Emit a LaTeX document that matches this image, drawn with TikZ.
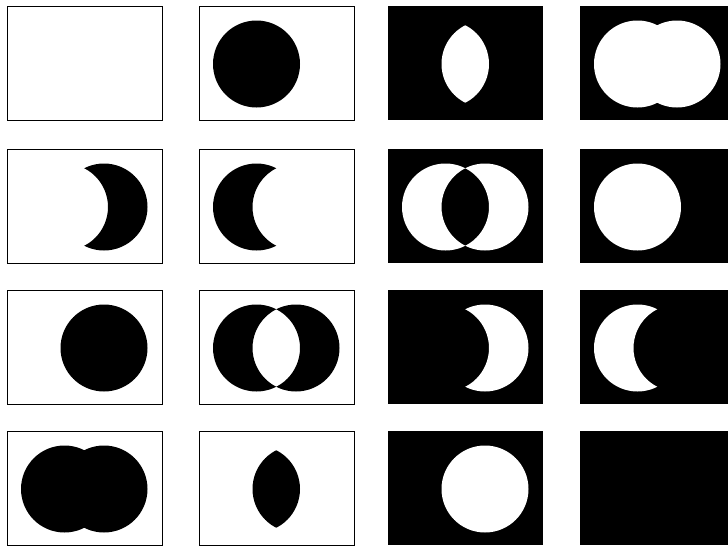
\documentclass[tikz,border=0pt]{standalone}

\newcommand{\cellrect}{(0,0) rectangle (155,114)}
\newcommand{\circA}{(57.5,58) circle[radius=43.5pt]}
\newcommand{\circB}{(97,58) circle[radius=43.5pt]}

\tikzset{
    frame/.style={draw=black, line width=1pt},
    ink/.style={fill=black},
    hole/.style={fill=white}
}

\begin{document}
\begin{tikzpicture}[x=1pt, y=-1pt]

    \useasboundingbox (0,0) rectangle (728,546);
    \clip (0,0) rectangle (728,546);

    % Row 1: 0, A, not(A and B), not(A or B)
    \begin{scope}[shift={(7,6)}]
        \draw[frame] \cellrect;
    \end{scope}
    \begin{scope}[shift={(199,6)}]
        \draw[frame] \cellrect;
        \fill[ink] \circA;
    \end{scope}
    \begin{scope}[shift={(388,6)}]
        \fill[ink] \cellrect;
        \begin{scope}
            \clip \circA;
            \fill[hole] \circB;
        \end{scope}
    \end{scope}
    \begin{scope}[shift={(580,6)}]
        \fill[ink] \cellrect;
        \fill[hole] \circA \circB;
    \end{scope}

    % Row 2: B and not A, A and not B, not(A xor B), not A
    \begin{scope}[shift={(7,149)}]
        \draw[frame] \cellrect;
        \begin{scope}
            \clip \circB;
            \fill[ink, even odd rule] \cellrect \circA;
        \end{scope}
    \end{scope}
    \begin{scope}[shift={(199,149)}]
        \draw[frame] \cellrect;
        \begin{scope}
            \clip \circA;
            \fill[ink, even odd rule] \cellrect \circB;
        \end{scope}
    \end{scope}
    \begin{scope}[shift={(388,149)}]
        \fill[ink] \cellrect;
        \fill[hole, even odd rule] \circA \circB;
    \end{scope}
    \begin{scope}[shift={(580,149)}]
        \fill[ink] \cellrect;
        \fill[hole] \circA;
    \end{scope}

    % Row 3: B, A xor B, not(B and not A), not(A and not B)
    \begin{scope}[shift={(7,290)}]
        \draw[frame] \cellrect;
        \fill[ink] \circB;
    \end{scope}
    \begin{scope}[shift={(199,290)}]
        \draw[frame] \cellrect;
        \fill[ink, even odd rule] \circA \circB;
    \end{scope}
    \begin{scope}[shift={(388,290)}]
        \fill[ink] \cellrect;
        \begin{scope}
            \clip \circB;
            \fill[hole, even odd rule] \cellrect \circA;
        \end{scope}
    \end{scope}
    \begin{scope}[shift={(580,290)}]
        \fill[ink] \cellrect;
        \begin{scope}
            \clip \circA;
            \fill[hole, even odd rule] \cellrect \circB;
        \end{scope}
    \end{scope}

    % Row 4: A or B, A and B, not B, 1
    \begin{scope}[shift={(7,431)}]
        \draw[frame] \cellrect;
        \fill[ink] \circA \circB;
    \end{scope}
    \begin{scope}[shift={(199,431)}]
        \draw[frame] \cellrect;
        \begin{scope}
            \clip \circA;
            \fill[ink] \circB;
        \end{scope}
    \end{scope}
    \begin{scope}[shift={(388,431)}]
        \fill[ink] \cellrect;
        \fill[hole] \circB;
    \end{scope}
    \begin{scope}[shift={(580,431)}]
        \fill[ink] \cellrect;
    \end{scope}

\end{tikzpicture}
\end{document}
